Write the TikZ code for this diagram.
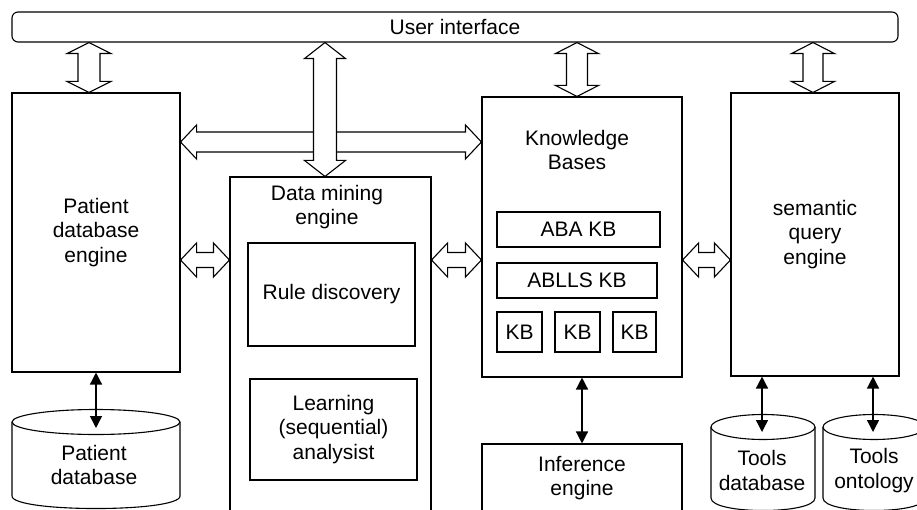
\documentclass[tikz,border=0pt]{standalone}
\usepackage{fontspec}
\setmainfont{Liberation Sans}
\usetikzlibrary{arrows.meta,calc}

\newcommand{\vdarrow}[5]{%
  \draw[hollow] let \p1=#1, \p2=#2 in
  (\x1,\y1) -- (\x1+#4pt,\y1-#5pt) -- (\x1+#3pt,\y1-#5pt) -- (\x1+#3pt,\y2+#5pt)
  -- (\x1+#4pt,\y2+#5pt) -- (\x1,\y2) -- (\x1-#4pt,\y2+#5pt) -- (\x1-#3pt,\y2+#5pt)
  -- (\x1-#3pt,\y1-#5pt) -- (\x1-#4pt,\y1-#5pt) -- cycle;}
\newcommand{\hdarrow}[5]{%
  \draw[hollow] let \p1=#1, \p2=#2 in
  (\x1,\y1) -- (\x1+#5pt,\y1+#4pt) -- (\x1+#5pt,\y1+#3pt) -- (\x2-#5pt,\y1+#3pt)
  -- (\x2-#5pt,\y1+#4pt) -- (\x2,\y1) -- (\x2-#5pt,\y1-#4pt) -- (\x2-#5pt,\y1-#3pt)
  -- (\x1+#5pt,\y1-#3pt) -- (\x1+#5pt,\y1-#4pt) -- cycle;}

\tikzset{
  txt/.style={font=\fontsize{21}{24.5}\selectfont, align=center, inner sep=0pt},
  box/.style={draw, line width=1.1pt, fill=white, txt},
  hollow/.style={draw, line width=1.1pt, fill=white, line join=miter},
  thinarrow/.style={line width=1.4pt, {Triangle[length=12pt,width=12pt]}-{Triangle[length=12pt,width=12pt]}},
  cyl/.style={draw, line width=1.1pt, fill=white}
}

\begin{document}
\begin{tikzpicture}[x=1pt,y=-1pt]
\useasboundingbox (0,0) rectangle (917,510);

% main boxes
\node[box, rounded corners=6pt, minimum width=886pt, minimum height=30pt] (ui) at (455,27) {User interface};
\node[box, minimum width=168pt, minimum height=279pt] (pde) at (96,232.5) {Patient\\database\\engine};
\node[box, minimum width=201pt, minimum height=338pt] (dme) at (330.5,346) {};
\node[txt] (dmetitle) at (327,207) {Data mining\\engine};
\node[box, minimum width=167pt, minimum height=103pt] (rule) at (331.5,294.5) {Rule discovery};
\node[box, minimum width=167pt, minimum height=101pt] (learn) at (333.5,429.5) {Learning\\(sequential)\\analysist};
\node[box, minimum width=200pt, minimum height=280pt] (kbs) at (582,237) {};
\node[txt] (kbtitle) at (577,150) {Knowledge\\Bases};
\node[box, minimum width=163pt, minimum height=35pt] (aba) at (578.5,229.5) {ABA KB};
\node[box, minimum width=160pt, minimum height=35pt] (ablls) at (577,280.5) {ABLLS KB};
\node[box, minimum width=45pt, minimum height=40pt] (kb1) at (519.5,332) {KB};
\node[box, minimum width=45pt, minimum height=40pt] (kb2) at (577.5,332) {KB};
\node[box, minimum width=43pt, minimum height=40pt] (kb3) at (634.5,332) {KB};
\node[box, minimum width=200pt, minimum height=68pt] (inf) at (582,478) {Inference\\engine};
\node[box, minimum width=168pt, minimum height=283pt] (sqe) at (815,234.5) {semantic\\query\\engine};

% cylinders
\draw[cyl] (12pt,-422pt) -- (12pt,-496pt) .. controls (12pt,-512.7pt) and (180pt,-512.7pt) .. (180pt,-496pt) -- (180pt,-422pt);
\draw[cyl] (96pt,-422pt) ellipse [x radius=84pt, y radius=12.5pt];
\node[txt] (pdb) at (94,465) {Patient\\database};

\draw[cyl] (711pt,-427pt) -- (711pt,-498pt) .. controls (711pt,-514.7pt) and (815pt,-514.7pt) .. (815pt,-498pt) -- (815pt,-427pt);
\draw[cyl] (763pt,-427pt) ellipse [x radius=52pt, y radius=12.5pt];
\node[txt] (tdb) at (762,470.5) {Tools\\database};

\draw[cyl] (823pt,-427pt) -- (823pt,-498pt) .. controls (823pt,-514.7pt) and (925pt,-514.7pt) .. (925pt,-498pt) -- (925pt,-427pt);
\draw[cyl] (874pt,-427pt) ellipse [x radius=51pt, y radius=12.5pt];
\node[txt] (tont) at (874,470.5) {Tools\\ontology};

% thin arrows
\coordinate (pdbtip) at (96,428);
\coordinate (tdbtip) at (762,432);
\coordinate (tonttip) at (873,432);
\draw[thinarrow] (pde.south) -- (pdbtip);
\draw[thinarrow] (sqe.south -| tdbtip) -- (tdbtip);
\draw[thinarrow] (sqe.south -| tonttip) -- (tonttip);
\draw[thinarrow] (kbs.south) -- (inf.north);

% hollow double arrows
\vdarrow{(89,0 |- ui.south)}{(89,0 |- pde.north)}{11}{22}{11}
\vdarrow{(577,0 |- ui.south)}{(577,0 |- kbs.north)}{10.5}{21.5}{11}
\vdarrow{(813,0 |- ui.south)}{(813,0 |- sqe.north)}{10}{21.5}{11}
\hdarrow{(pde.east |- 0,142)}{(kbs.west |- 0,142)}{10}{17}{16}
\vdarrow{(325,0 |- ui.south)}{(325,0 |- dme.north)}{11.5}{20.5}{16}
\hdarrow{(pde.east |- 0,260)}{(dme.west |- 0,260)}{7.5}{17}{16}
\hdarrow{(dme.east |- 0,260)}{(kbs.west |- 0,260)}{7.5}{17}{16}
\hdarrow{(kbs.east |- 0,260)}{(sqe.west |- 0,260)}{7.5}{17}{16}
\end{tikzpicture}
\end{document}
